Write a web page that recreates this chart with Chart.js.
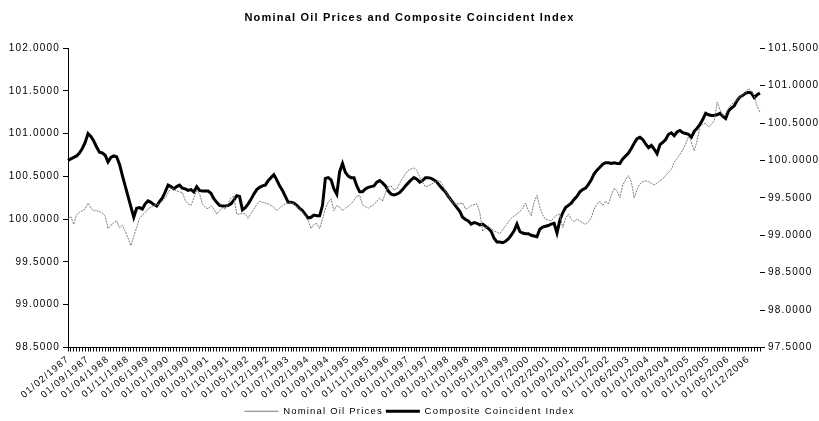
<!DOCTYPE html>
<html>
<head>
<meta charset="utf-8">
<script src="https://cdn.jsdelivr.net/npm/chart.js@4.4.0/dist/chart.umd.min.js"></script>
<style>
  html, body { margin: 0; padding: 0; background: #fff; }
  #wrap { width: 819px; height: 421px; }
</style>
</head>
<body>
<div id="wrap"><canvas id="oilChart" width="819" height="421"></canvas></div>
<script>
// monthly series, Feb 1987 onwards
const startYear = 1987;
const startMonth = 2;
const labelEvery = 7;

const oilPrices = [
  100.01, 100.03, 99.94, 100.05, 100.08, 100.10, 100.12, 100.19, 100.13, 100.10, 100.10, 100.09,
  100.07, 100.04, 99.89, 99.93, 99.96, 99.98, 99.90, 99.93, 99.86, 99.78, 99.69, 99.80,
  99.90, 100.01, 100.05, 100.08, 100.12, 100.14, 100.16, 100.17, 100.18, 100.21, 100.25, 100.31,
  100.37, 100.35, 100.33, 100.32, 100.31, 100.22, 100.18, 100.16, 100.25, 100.33, 100.30, 100.18,
  100.14, 100.12, 100.16, 100.12, 100.06, 100.10, 100.13, 100.12, 100.18, 100.25, 100.27, 100.06,
  100.06, 100.07, 100.06, 100.01, 100.07, 100.12, 100.17, 100.21, 100.20, 100.19, 100.18, 100.16,
  100.14, 100.10, 100.13, 100.16, 100.18, 100.19, 100.19, 100.18, 100.15, 100.12, 100.08, 100.04,
  99.98, 99.89, 99.94, 99.95, 99.89, 100.00, 100.12, 100.20, 100.24, 100.10, 100.16, 100.14,
  100.10, 100.13, 100.15, 100.18, 100.22, 100.27, 100.28, 100.17, 100.15, 100.13, 100.15, 100.17,
  100.21, 100.25, 100.21, 100.31, 100.38, 100.39, 100.34, 100.36, 100.42, 100.48, 100.53, 100.57,
  100.59, 100.60, 100.57, 100.49, 100.43, 100.38, 100.39, 100.41, 100.43, 100.44, 100.45, 100.40,
  100.33, 100.27, 100.22, 100.18, 100.18, 100.18, 100.19, 100.12, 100.13, 100.16, 100.17, 100.18,
  100.08, 99.86, 99.90, 99.92, 99.89, 99.86, 99.85, 99.83, 99.88, 99.92, 99.97, 100.01,
  100.04, 100.06, 100.09, 100.13, 100.19, 100.10, 100.04, 100.20, 100.28, 100.14, 100.05, 100.00,
  99.99, 99.98, 100.02, 100.05, 100.06, 99.90, 100.01, 100.06, 100.00, 99.97, 100.00, 99.98,
  99.96, 99.94, 99.97, 100.02, 100.12, 100.18, 100.21, 100.16, 100.21, 100.18, 100.28, 100.36,
  100.33, 100.25, 100.40, 100.46, 100.51, 100.44, 100.25, 100.35, 100.41, 100.44, 100.45, 100.44,
  100.42, 100.40, 100.42, 100.45, 100.47, 100.51, 100.55, 100.58, 100.67, 100.71, 100.76, 100.81,
  100.88, 100.97, 100.90, 100.80, 100.92, 101.08, 101.11, 101.12, 101.08, 101.11, 101.15, 101.37,
  101.28, 101.21, 101.24, 101.30, 101.34, 101.37, 101.39, 101.44, 101.46, 101.48, 101.53, 101.50,
  101.44, 101.32, 101.25
];

const compositeIndex = [
  100.00, 100.02, 100.04, 100.06, 100.10, 100.16, 100.24, 100.36, 100.32, 100.26, 100.18, 100.11,
  100.10, 100.07, 99.98, 100.04, 100.06, 100.05, 99.95, 99.80, 99.66, 99.52, 99.38, 99.24,
  99.36, 99.37, 99.35, 99.42, 99.46, 99.44, 99.41, 99.39, 99.45, 99.50, 99.58, 99.67,
  99.65, 99.62, 99.65, 99.67, 99.63, 99.62, 99.60, 99.61, 99.58, 99.65, 99.60, 99.59,
  99.59, 99.59, 99.56, 99.49, 99.44, 99.40, 99.39, 99.39, 99.40, 99.42, 99.47, 99.53,
  99.52, 99.34, 99.37, 99.42, 99.48, 99.55, 99.61, 99.64, 99.66, 99.67, 99.73, 99.77,
  99.81, 99.74, 99.66, 99.60, 99.52, 99.44, 99.44, 99.43, 99.40, 99.36, 99.33, 99.28,
  99.23, 99.24, 99.27, 99.26, 99.26, 99.40, 99.76, 99.77, 99.74, 99.62, 99.55, 99.85,
  99.96, 99.84, 99.79, 99.77, 99.77, 99.66, 99.58, 99.58, 99.62, 99.64, 99.65, 99.66,
  99.71, 99.73, 99.70, 99.66, 99.59, 99.55, 99.54, 99.55, 99.57, 99.61, 99.66, 99.70,
  99.74, 99.77, 99.75, 99.71, 99.73, 99.77, 99.77, 99.76, 99.74, 99.71, 99.66, 99.62,
  99.58, 99.52, 99.47, 99.42, 99.37, 99.32, 99.24, 99.21, 99.19, 99.15, 99.17, 99.16,
  99.14, 99.15, 99.12, 99.09, 99.05, 98.96, 98.91, 98.91, 98.90, 98.92, 98.95, 99.00,
  99.06, 99.15, 99.05, 99.03, 99.02, 99.02, 99.00, 98.99, 98.98, 99.08, 99.11, 99.12,
  99.13, 99.15, 99.16, 99.03, 99.20, 99.30, 99.37, 99.40, 99.43, 99.48, 99.52, 99.58,
  99.61, 99.63, 99.68, 99.74, 99.82, 99.87, 99.91, 99.95, 99.97, 99.97, 99.96, 99.97,
  99.96, 99.96, 100.02, 100.06, 100.10, 100.16, 100.23, 100.29, 100.31, 100.28, 100.22, 100.17,
  100.20, 100.15, 100.09, 100.21, 100.24, 100.28, 100.35, 100.37, 100.33, 100.38, 100.40, 100.37,
  100.36, 100.35, 100.31, 100.39, 100.43, 100.48, 100.55, 100.63, 100.61, 100.60, 100.60, 100.61,
  100.63, 100.59, 100.56, 100.66, 100.70, 100.73, 100.80, 100.85, 100.87, 100.90, 100.91, 100.90,
  100.84, 100.88, 100.90
];

// category labels 01/MM/YYYY
const months = [];
for (let i = 0; i < oilPrices.length; i++) {
  const m = startMonth - 1 + i;
  const mm = String((m % 12) + 1).padStart(2, "0");
  months.push(`01/${mm}/${startYear + Math.floor(m / 12)}`);
}

const textFont = "'Liberation Sans', Arial, sans-serif";

// wider letter spacing like the original export
const spacing = {
  id: "spacing",
  beforeUpdate(chart) { chart.ctx.letterSpacing = "1.2px"; },
  beforeDraw(chart) { chart.ctx.letterSpacing = "1.2px"; },
};

new Chart(document.getElementById("oilChart"), {
  type: "line",
  data: {
    labels: months,
    datasets: [
      {
        label: "Nominal Oil Prices",
        data: oilPrices,
        yAxisID: "yLeft",
        borderColor: "#7a7a7a",
        backgroundColor: "#7a7a7a",
        borderWidth: 1,
        borderDash: [2, 1],
        pointRadius: 0,
        tension: 0,
      },
      {
        label: "Composite Coincident Index",
        data: compositeIndex,
        yAxisID: "yRight",
        borderColor: "#000",
        backgroundColor: "#000",
        borderWidth: 3,
        pointRadius: 0,
        tension: 0,
      },
    ],
  },
  options: {
    responsive: false,
    animation: false,
    layout: { padding: { top: 0, left: 0, right: 0, bottom: -5 } },
    plugins: {
      title: {
        display: true,
        text: "Nominal Oil Prices and Composite Coincident Index",
        color: "#000",
        font: { family: textFont, size: 11, weight: "bold" },
        padding: { top: 11, bottom: 24 },
      },
      legend: {
        position: "bottom",
        labels: {
          color: "#000",
          font: { family: textFont, size: 9.5 },
          usePointStyle: true,
          pointStyle: "line",
          pointStyleWidth: 34,
          padding: 3,
        },
      },
      tooltip: { enabled: false },
    },
    scales: {
      x: {
        offset: false,
        grid: { drawOnChartArea: false, color: "#000", tickLength: 4 },
        border: { color: "#000" },
        ticks: {
          autoSkip: false,
          maxRotation: 40,
          minRotation: 40,
          padding: 2,
          color: "#000",
          font: { family: textFont, size: 9.5 },
          callback: (v, i) => (i % labelEvery === 0 ? months[i] : ""),
        },
        afterFit: (s) => { s.height = 56; },
      },
      yLeft: {
        position: "left",
        min: 98.5,
        max: 102,
        grid: { drawOnChartArea: false, color: "#000", tickLength: 5 },
        border: { color: "#000" },
        ticks: {
          stepSize: 0.5,
          color: "#000",
          font: { family: textFont, size: 10 },
          callback: (v) => v.toFixed(4),
        },
        afterFit: (s) => { s.width = 68; },
      },
      yRight: {
        position: "right",
        min: 97.5,
        max: 101.5,
        grid: { drawOnChartArea: false, color: "#000", tickLength: 5 },
        border: { display: false },
        ticks: {
          stepSize: 0.5,
          color: "#000",
          font: { family: textFont, size: 10 },
          callback: (v) => v.toFixed(4),
        },
        afterFit: (s) => { s.width = 59; },
      },
    },
  },
  plugins: [spacing],
});
</script>
</body>
</html>
